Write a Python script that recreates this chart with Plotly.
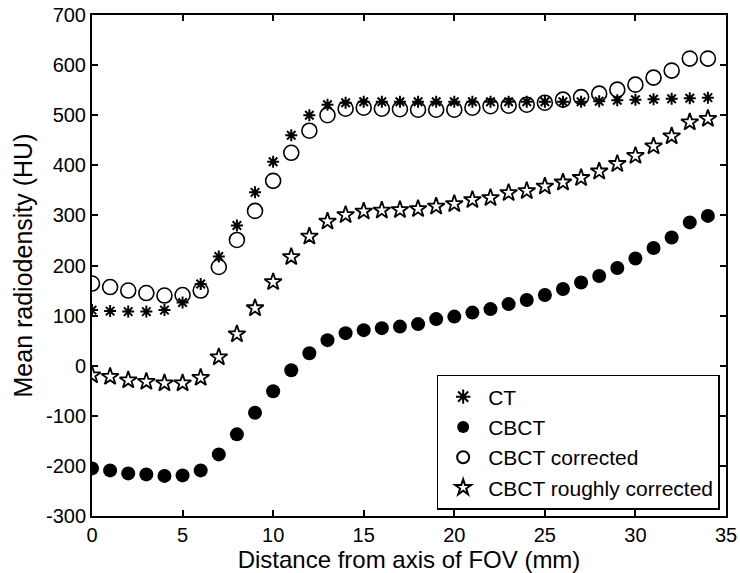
import plotly.graph_objects as go

x = list(range(35))
ct = [111, 109, 108, 108, 111, 126, 163, 218, 280, 346, 407, 460, 500, 521, 525,
      527, 527, 527, 527, 527, 527, 527, 527, 527, 527, 527, 527, 527, 528, 530,
      531, 532, 533, 534, 535]
cbct = [-205, -209, -215, -217, -220, -219, -209, -177, -137, -94, -51, -9, 25, 51, 65,
        71, 75, 78, 83, 93, 98, 106, 113, 123, 131, 141, 153, 166, 179, 195,
        214, 235, 256, 286, 299]
cbct_corr = [164, 157, 150, 145, 140, 141, 150, 197, 251, 309, 369, 425, 469, 500, 513,
             515, 513, 512, 511, 511, 511, 515, 518, 519, 521, 525, 531, 536, 543, 551,
             561, 575, 589, 613, 613]
cbct_rough = [-19, -22, -29, -32, -35, -35, -24, 17, 63, 115, 167, 217, 258, 288, 301,
              308, 310, 311, 313, 318, 323, 331, 335, 345, 349, 358, 366, 375, 388, 403,
              419, 438, 458, 486, 493]

xticks = [0, 5, 10, 15, 20, 25, 30, 35]
yticks = [-300, -200, -100, 0, 100, 200, 300, 400, 500, 600, 700]
ytick_labels = ["-300", "-200", "-100", "0", "100", "200", "300", "400", "500", "600", "700"]

font = "Liberation Sans, Arial, sans-serif"
fig = go.Figure()
fig.add_trace(go.Scatter(x=x, y=ct, mode="markers", name="CT",
                         marker=dict(symbol="asterisk-open", size=10, color="black",
                                     line=dict(color="black", width=2))))
fig.add_trace(go.Scatter(x=x, y=cbct, mode="markers", name="CBCT",
                         marker=dict(symbol="circle", size=14, color="black",
                                     line=dict(width=0))))
fig.add_trace(go.Scatter(x=x, y=cbct_corr, mode="markers", name="CBCT corrected",
                         marker=dict(symbol="circle-open", size=15, color="black",
                                     line=dict(color="black", width=1.6))))
fig.add_trace(go.Scatter(x=x, y=cbct_rough, mode="markers", name="CBCT roughly corrected",
                         marker=dict(symbol="star-open", size=13, color="black",
                                     line=dict(color="black", width=1.8))))

axis_common = dict(showgrid=False, zeroline=False, showline=True, linecolor="black",
                   linewidth=2, mirror="ticks", ticks="inside", ticklen=6,
                   tickwidth=1.5, tickcolor="black", automargin=False,
                   tickfont=dict(family=font, size=20, color="black"))
fig.update_xaxes(range=[0, 35], tickvals=xticks,
                 title=dict(text="Distance from axis of FOV (mm)",
                            font=dict(family=font, size=24, color="black"), standoff=0),
                 **axis_common)
fig.update_yaxes(range=[-300, 700], tickvals=yticks, ticktext=ytick_labels,
                 title=dict(text="Mean radiodensity (HU)",
                            font=dict(family=font, size=25, color="black"), standoff=6),
                 **axis_common)
fig.update_layout(
    width=740, height=573,
    margin=dict(l=92, r=14, t=15, b=57),
    plot_bgcolor="white", paper_bgcolor="white",
    font=dict(family=font, color="black"),
    legend=dict(x=0.99, y=0.012, xanchor="right", yanchor="bottom",
                bgcolor="white", bordercolor="black", borderwidth=1.5,
                font=dict(family=font, size=21, color="black"),
                tracegroupgap=0, itemsizing="constant", itemwidth=40),
)
fig.write_html("out.html", config={"displayModeBar": False},
               post_script="document.body.style.margin='0';document.body.style.overflow='hidden';")
